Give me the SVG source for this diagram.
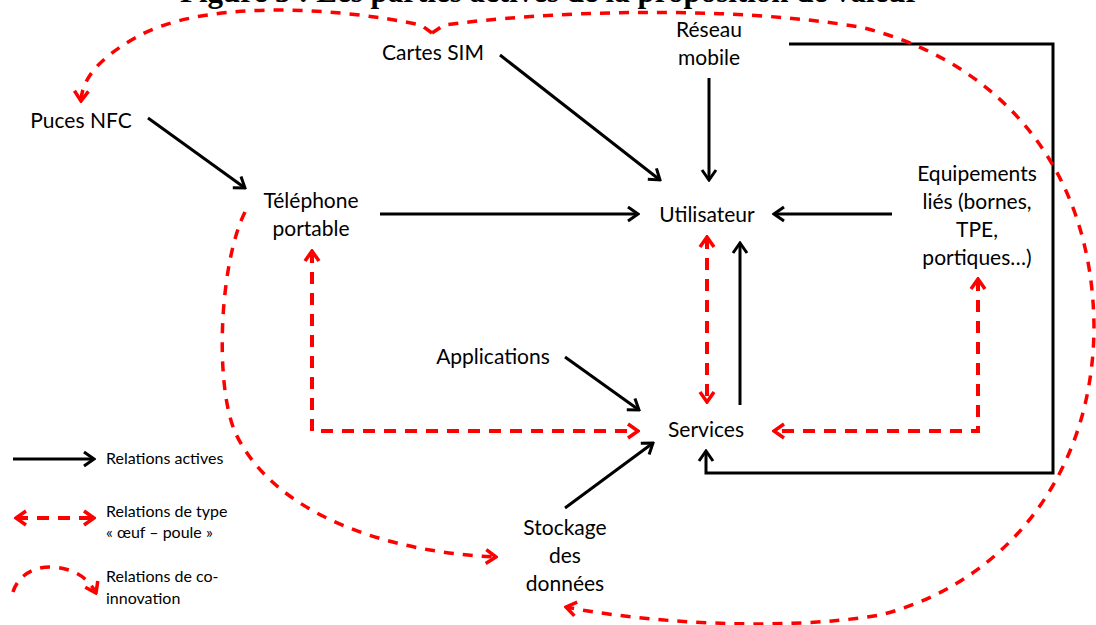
<svg xmlns="http://www.w3.org/2000/svg" width="1096" height="625" viewBox="0 0 1096 625">
<style>
.n{font-family:Lato,"Liberation Sans",sans-serif;font-size:21px;fill:#000;text-anchor:middle}
.lg{font-family:Lato,"Liberation Sans",sans-serif;font-size:16px;fill:#000}
.title{font-family:"Liberation Serif",serif;font-weight:bold;font-size:31px;fill:#000}
.act{fill:none;stroke:#000;stroke-width:3}
.oeuf{fill:none;stroke:#ff0000;stroke-width:4;stroke-dasharray:12 9}
.co{fill:none;stroke:#ff0000;stroke-width:3.5;stroke-dasharray:10 9}
</style>
<defs>
<marker id="ab" viewBox="-12 -9 14 18" markerWidth="14" markerHeight="18" refX="0" refY="0" orient="auto" markerUnits="userSpaceOnUse">
<path d="M-10,-7 L0,0 L-10,7" fill="none" stroke="#000" stroke-width="3"/>
</marker>
<marker id="ar" viewBox="-12 -9 14 18" markerWidth="14" markerHeight="18" refX="0" refY="0" orient="auto-start-reverse" markerUnits="userSpaceOnUse">
<path d="M-10,-7 L0,0 L-10,7" fill="none" stroke="#ff0000" stroke-width="3.5"/>
</marker>
</defs>
<rect width="1096" height="625" fill="#fff"/>
<text class="title" x="180" y="2">Figure 3 : Les parties actives de la proposition de valeur</text>

<g id="connectors">
<!-- active relations -->
<path class="act" d="M500,55 L660,180" marker-end="url(#ab)"/>
<path class="act" d="M709,78 L709,180" marker-end="url(#ab)"/>
<path class="act" d="M148,118 L245,188" marker-end="url(#ab)"/>
<path class="act" d="M380,214 L638,214" marker-end="url(#ab)"/>
<path class="act" d="M892,214 L774,214" marker-end="url(#ab)"/>
<path class="act" d="M565,357 L639,410" marker-end="url(#ab)"/>
<path class="act" d="M740,405 L740,243" marker-end="url(#ab)"/>
<path class="act" d="M565,508 L653,443" marker-end="url(#ab)"/>
<path class="act" d="M789,44 L1053,44 L1053,473 L706,473 L706,451" marker-end="url(#ab)"/>
<!-- oeuf-poule -->
<path class="oeuf" d="M707,237 L707,402" marker-start="url(#ar)" marker-end="url(#ar)"/>
<path class="oeuf" d="M312,251 L312,431 L638,431" marker-start="url(#ar)" marker-end="url(#ar)"/>
<path class="oeuf" d="M978,279 L978,431 L774,431" marker-start="url(#ar)" marker-end="url(#ar)"/>
<!-- co-innovation -->
<path class="co" d="M432,33 L421,25 C330,6 200,0 135,38 C100,58 82,78 81,101" marker-end="url(#ar)"/>
<path class="co" d="M432,33 L444,25 C540,12 720,4 860,27 C990,58 1094,160 1094,330 C1092,480 1000,585 880,615 C780,632 640,622 566,607" marker-end="url(#ar)"/>
<path class="co" d="M245,212 C220,262 214,382 235,432 C272,512 382,552 496,557" marker-end="url(#ar)"/>
</g>

<g id="n-cartes"><text class="n" x="433" y="60">Cartes SIM</text></g>
<g id="n-reseau"><text class="n" x="709" y="37">Réseau</text><text class="n" x="709" y="65">mobile</text></g>
<g id="n-nfc"><text class="n" x="81" y="128">Puces NFC</text></g>
<g id="n-tel"><text class="n" x="311" y="208">Téléphone</text><text class="n" x="311" y="236">portable</text></g>
<g id="n-util"><text class="n" x="707" y="222">Utilisateur</text></g>
<g id="n-equip"><text class="n" x="977" y="181">Equipements</text><text class="n" x="977" y="209">liés (bornes,</text><text class="n" x="977" y="237">TPE,</text><text class="n" x="977" y="265">portiques…)</text></g>
<g id="n-app"><text class="n" x="493" y="364">Applications</text></g>
<g id="n-serv"><text class="n" x="706" y="437">Services</text></g>
<g id="n-stock"><text class="n" x="565" y="535">Stockage</text><text class="n" x="565" y="563">des</text><text class="n" x="565" y="591">données</text></g>

<g id="legend">
<path class="act" d="M13,459 L94,459" marker-end="url(#ab)"/>
<text class="lg" x="106" y="464">Relations actives</text>
<path class="oeuf" d="M16,518 L94,518" marker-start="url(#ar)" marker-end="url(#ar)"/>
<text class="lg" x="106" y="517">Relations de type</text>
<text class="lg" x="106" y="538">« œuf – poule »</text>
<path class="co" d="M13,592 C18,575 35,566 52,567 C72,568 88,577 96,593" marker-end="url(#ar)"/>
<text class="lg" x="106" y="582">Relations de co-</text>
<text class="lg" x="106" y="604">innovation</text>
</g>
</svg>
